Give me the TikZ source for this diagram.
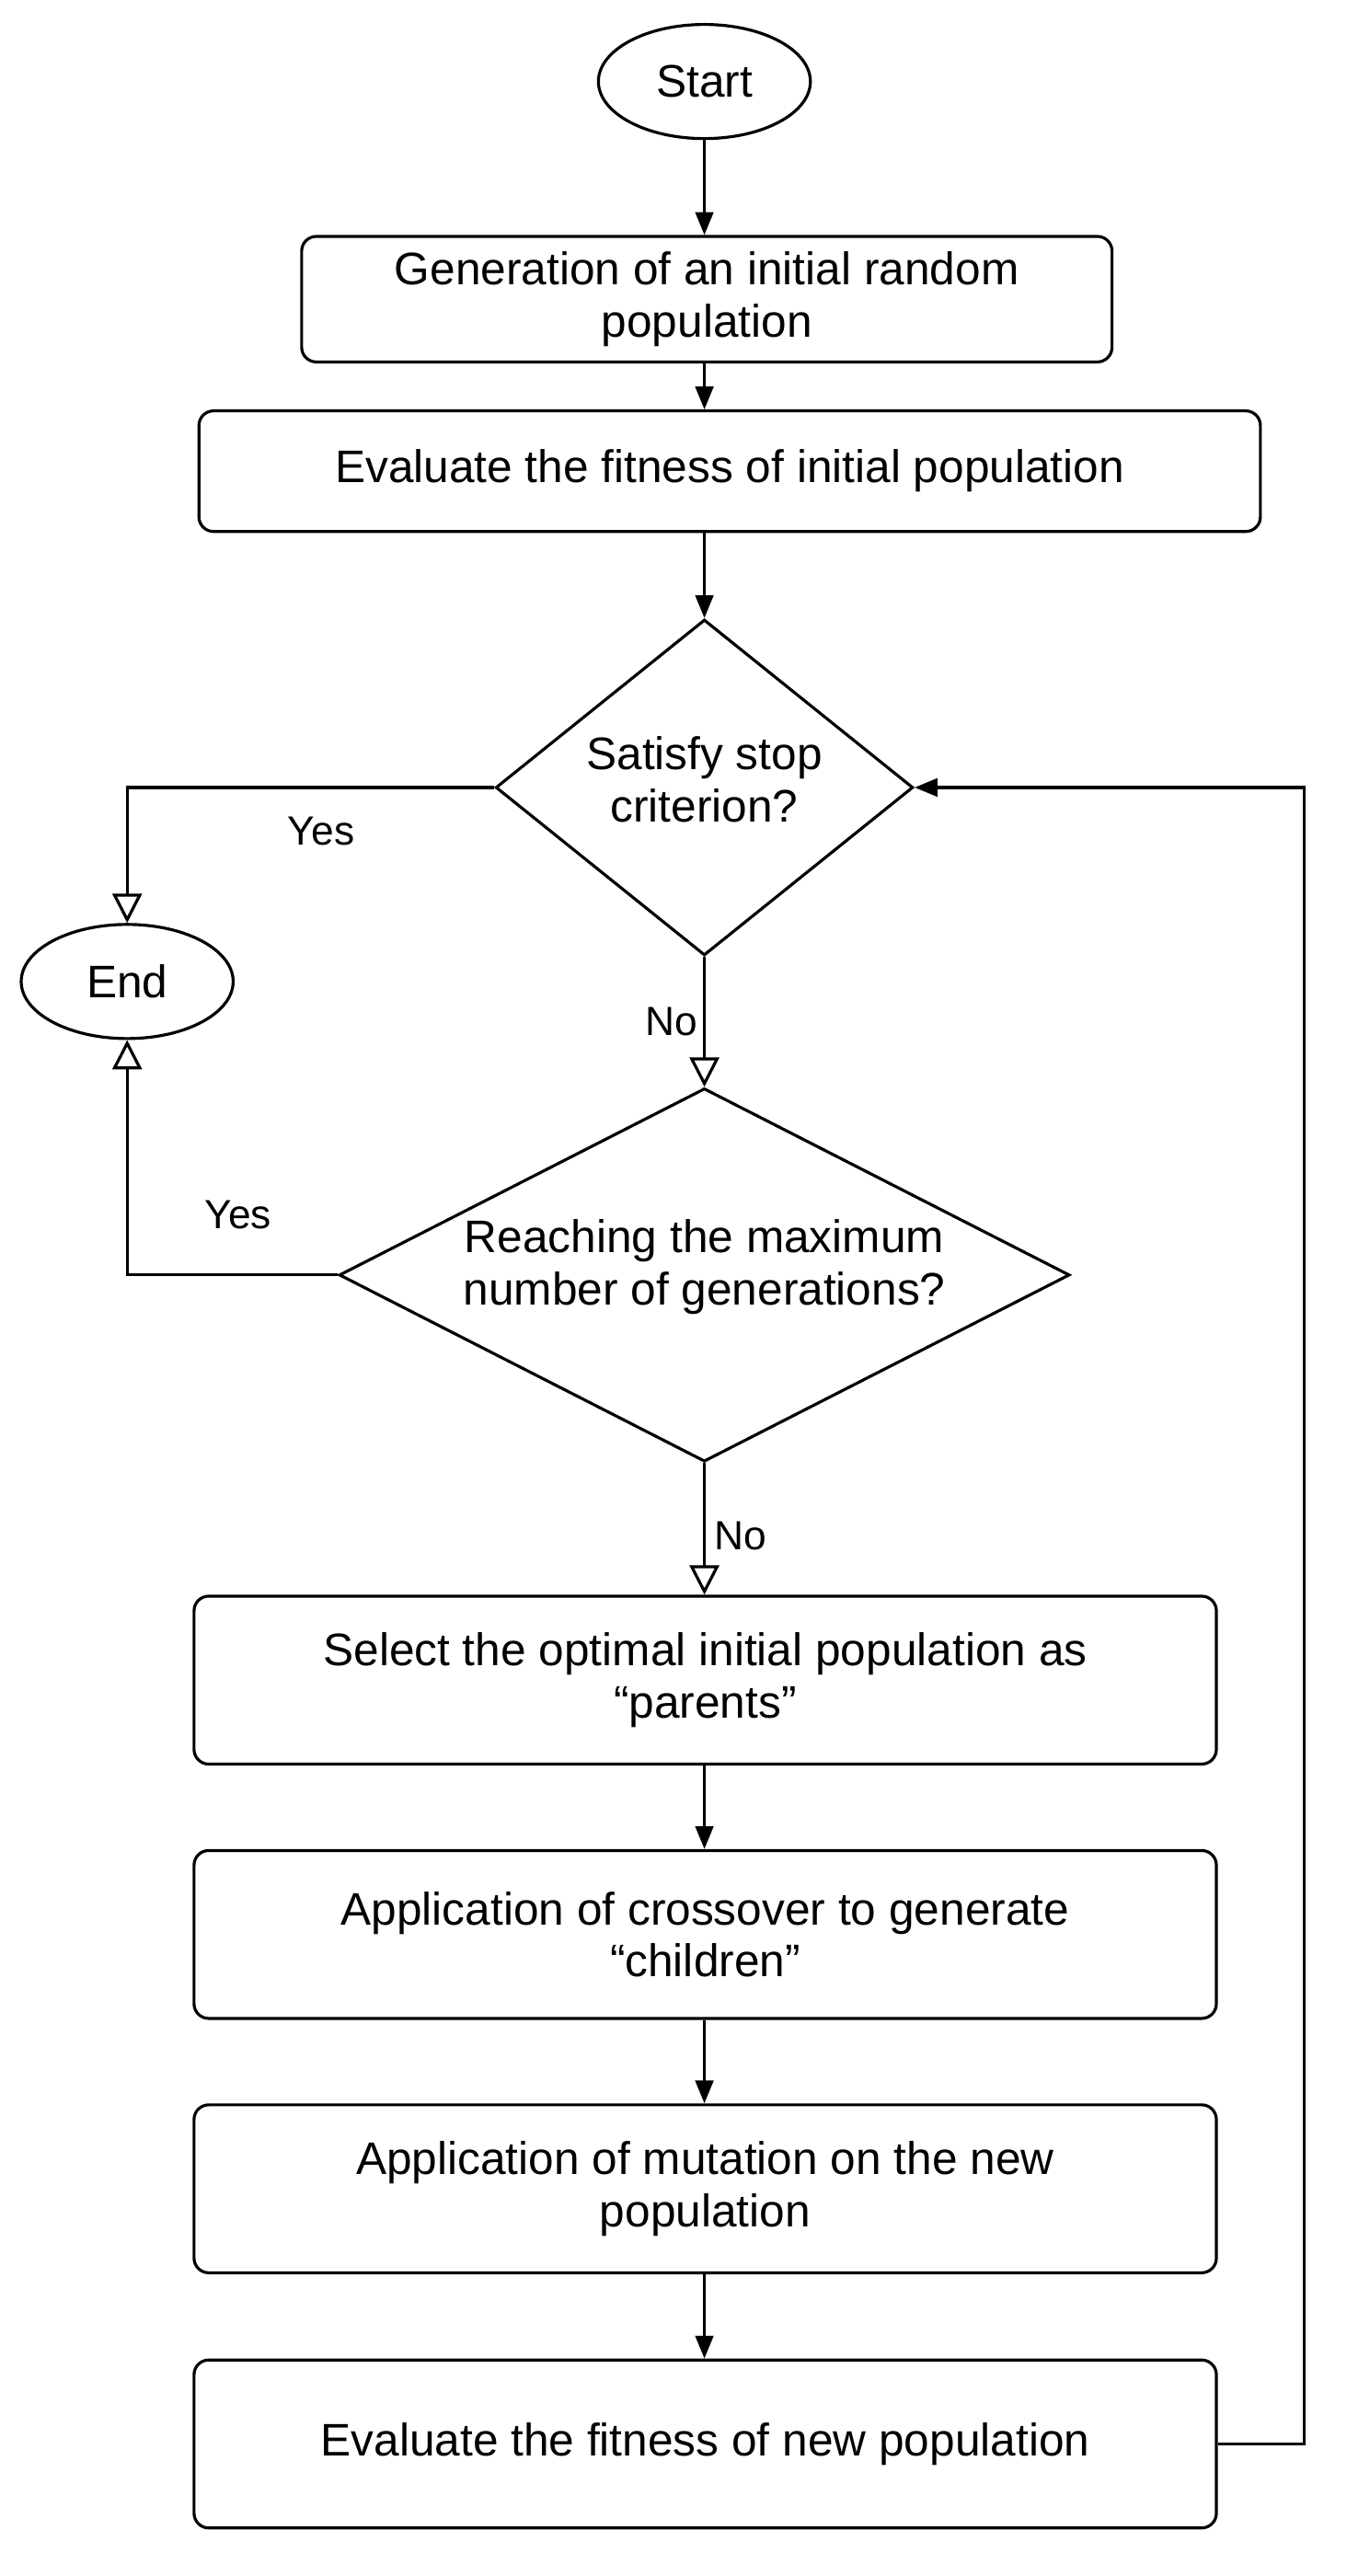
\documentclass[tikz,border=0pt]{standalone}
\usepackage{fontspec}
\setmainfont{Liberation Sans}
\usetikzlibrary{shapes.geometric,arrows.meta}
\begin{document}
\begin{tikzpicture}[x=1pt,y=-1pt,line width=1.8pt,
  every node/.style={font=\fontsize{28}{32}\selectfont,align=center},
  box/.style={draw,rounded corners=9pt,inner sep=0pt},
  term/.style={draw,ellipse,inner sep=0pt,minimum width=130pt,minimum height=70pt},
  dia/.style={draw,diamond,inner sep=0pt},
  fa/.style={-{Triangle[length=14pt,width=11pt]}},
  oa/.style={-{Triangle[open,length=18pt,width=18pt]}},
  lab/.style={font=\fontsize{25}{28}\selectfont}]
\useasboundingbox (0,0) rectangle (826,1580);
\node[term] (start) at (432,50) {Start};
\node[box,minimum width=497pt,minimum height=77pt] (b1) at (433.5,183.5) {Generation of an initial random\\population};
\node[box,minimum width=651pt,minimum height=74pt] (b2) at (447.5,289) {Evaluate the fitness of initial population};
\node[dia,minimum width=256pt,minimum height=206pt] (d1) at (432,483) {};
\node at (432,478) {Satisfy stop\\criterion?};
\node[term] (end) at (78,602) {End};
\node[dia,minimum width=448pt,minimum height=229pt] (d2) at (432,782) {};
\node at (432,777) {Reaching the maximum\\number of generations?};
\node[box,minimum width=627pt,minimum height=103pt] (b3) at (432.5,1030.5) {Select the optimal initial population as\\``parents''};
\node[box,minimum width=627pt,minimum height=103pt] (b4) at (432.5,1186.5) {Application of crossover to generate\\``children''};
\node[box,minimum width=627pt,minimum height=103pt] (b5) at (432.5,1342.5) {Application of mutation on the new\\population};
\node[box,minimum width=627pt,minimum height=103pt] (b6) at (432.5,1499) {Evaluate the fitness of new population};
\draw[fa] (start) -- (start|-b1.north);
\draw[fa] (b1.south-|start) -- (start|-b2.north);
\draw[fa] (b2.south-|start) -- (d1.north);
\draw[oa] (d1.south) -- (d2.north) node[lab,pos=0.5,left=0pt] {No};
\draw[oa] (d2.south) -- (d2.south|-b3.north) node[lab,pos=0.55,right=2pt] {No};
\draw[fa] (b3.south-|start) -- (start|-b4.north);
\draw[fa] (b4.south-|start) -- (start|-b5.north);
\draw[fa] (b5.south-|start) -- (start|-b6.north);
\coordinate (r) at (800,1499);
\draw[fa] (b6.east) -- (r) -- (r|-d1) -- (d1.east);
\draw[oa] (d1.west) -- (end.north|-d1) -- (end.north);
\node[lab] at (197,510) {Yes};
\draw[oa] (d2.west) -- (end.south|-d2) -- (end.south);
\node[lab] at (146,745) {Yes};
\end{tikzpicture}
\end{document}
